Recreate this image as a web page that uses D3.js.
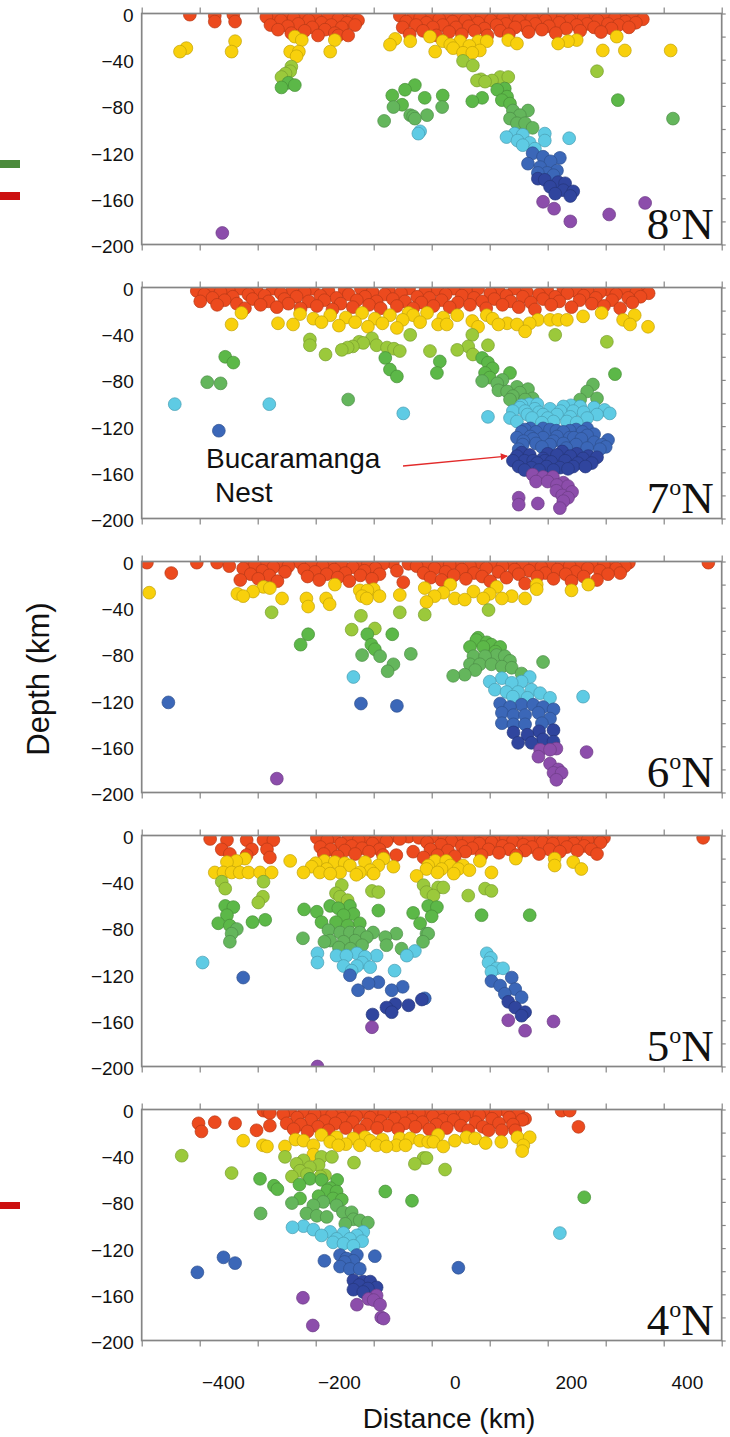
<!DOCTYPE html>
<html>
<head>
<meta charset="utf-8">
<script src="https://cdn.jsdelivr.net/npm/d3@7"></script>
<style>
  body { margin: 0; background: #fff; }
  svg { display: block; }
</style>
</head>
<body>
<svg id="chart" width="730" height="1437"></svg>
<script>
// Cross-sections of hypocentres, one panel per latitude.
const panelLatitudes = ["8", "7", "6", "5", "4"];
const xTickLabels = [-400, -200, 0, 200, 400];
const yTickLabels = [0, -40, -80, -120, -160, -200];
const frameTicks = d3.range(-540, 461, 100);
const rightTicks = d3.range(0, -201, -20);

// depth classes (km below surface) and their colours
const depthBreaks = [20, 40, 60, 80, 100, 120, 142, 160];
const depthColors = ["#ec4a1e", "#f8d00c", "#9bc93b", "#5cb848", "#64b65c",
                     "#5ecbe4", "#3b67b8", "#30459e", "#8c4dab"];

// [distance km, depth km]
const quakes8N = [
  [-457,-1],[-414,-2],[-414,-7],[-382,-1],[-379,-7],
  [-325,-3],[-318,-10],[-312,-2],[-305,-14],[-300,-6],[-293,-1],[-288,-11],[-282,-17],[-278,-4],[-270,-9],
  [-264,-1],[-259,-15],[-252,-6],[-246,-12],[-240,-2],[-236,-19],[-230,-8],[-224,-14],[-218,-3],[-213,-10],
  [-207,-17],[-201,-5],[-201,-19],[-195,-12],[-193,-1],[-186,-8],[-184,-19],[-177,-4],[-172,-10],[-167,-6],
  [-95,-2],[-90,-12],[-84,-7],[-78,-18],[-72,-1],[-67,-10],[-60,-4],[-55,-15],[-49,-8],[-43,-1],[-38,-12],
  [-32,-19],[-27,-5],[-21,-10],[-15,-2],[-10,-16],[-4,-7],[2,-12],[7,-1],[12,-18],[18,-6],[24,-11],[29,-2],
  [34,-15],[40,-8],[46,-3],[51,-13],[56,-19],[62,-6],[67,-1],[72,-10],[78,-15],[83,-4],[88,-9],[93,-18],
  [98,-2],[104,-12],[110,-6],[116,-1],[121,-11],[127,-16],[133,-4],[139,-9],[145,-1],[150,-14],[156,-6],
  [162,-11],[168,-2],[174,-17],[180,-8],[186,-3],[192,-13],[198,-6],[204,-1],[210,-10],[216,-15],[222,-4],
  [228,-9],[234,-1],[240,-12],[246,-6],[252,-16],[258,-2],[264,-9],[270,-13],[276,-4],[282,-10],[288,-1],
  [294,-7],[300,-12],[306,-3],[312,-8],[318,-1],[324,-5],
  [-474,-33],[-463,-30],[-385,-33],[-379,-24],[-276,-20],[-264,-23],[-284,-33],[-269,-33],[-273,-37],
  [-215,-33],[-207,-23],[-112,-27],[-103,-22],[-77,-24],[-43,-20],[-34,-33],[-21,-24],[-3,-30],[9,-24],
  [14,-34],[40,-24],[43,-32],[55,-24],[92,-23],[107,-26],[178,-26],[195,-24],[210,-23],[255,-32],[279,-20],
  [293,-32],[372,-32],[-8,-27],[25,-28],[30,-34],
  [-282,-46],[-284,-50],[-299,-55],[-292,-52],[14,-41],[31,-45],[38,-58],[52,-59],[64,-58],[78,-55],
  [92,-55],[245,-50],[45,-57],
  [-299,-64],[-287,-60],[-276,-62],[-108,-71],[-86,-66],[-69,-62],[-106,-81],[-91,-79],[-122,-93],[-77,-88],
  [-69,-91],[-52,-73],[-21,-71],[-22,-81],[-72,-89],[-48,-88],[30,-76],[47,-73],[73,-66],[86,-65],[90,-72],
  [81,-75],[95,-78],[100,-84],[112,-88],[126,-84],[95,-91],[107,-95],[121,-95],[134,-99],[281,-75],[376,-91],
  [-63,-104],[-60,-102],[89,-107],[103,-104],[117,-105],[129,-112],[117,-114],[138,-117],[155,-104],
  [155,-110],[197,-108],[108,-110],
  [134,-121],[152,-124],[126,-130],[147,-133],[159,-138],[181,-125],[176,-136],[143,-138],[165,-128],[170,-140],
  [143,-143],[155,-144],[164,-150],[178,-146],[187,-153],[204,-154],[199,-158],[173,-156],[190,-147],
  [-401,-190],[152,-163],[171,-169],[199,-180],[266,-174],[328,-164]
];

const quakes7N = [
  [-445,-3],[-439,-12],[-432,-6],[-425,-1],[-418,-9],[-410,-15],[-404,-4],[-397,-11],[-390,-2],[-383,-8],
  [-376,-14],[-369,-1],[-362,-18],[-356,-6],[-349,-10],[-342,-2],[-335,-15],[-328,-7],[-321,-12],[-314,-1],
  [-307,-17],[-300,-5],[-294,-10],[-287,-14],[-280,-2],[-273,-8],[-266,-18],[-259,-4],[-252,-12],[-245,-1],
  [-238,-16],[-232,-7],[-225,-11],[-218,-3],[-211,-19],[-204,-9],[-197,-14],[-190,-2],[-183,-6],[-176,-17],
  [-169,-11],[-162,-1],[-155,-8],[-148,-15],[-142,-4],[-135,-12],[-128,-18],[-121,-6],[-114,-2],[-107,-10],
  [-100,-16],[-93,-5],[-86,-12],[-79,-1],[-72,-18],[-65,-8],[-58,-13],[-51,-3],[-44,-9],[-37,-16],[-30,-2],
  [-23,-11],[-16,-6],[-9,-17],[-2,-1],[5,-13],[12,-7],[19,-3],[26,-15],[33,-9],[40,-1],[47,-12],[54,-18],
  [61,-5],[68,-10],[75,-2],[82,-15],[89,-7],[96,-12],[103,-1],[110,-17],[117,-8],[124,-4],[131,-13],
  [138,-19],[145,-6],[152,-10],[159,-2],[166,-15],[173,-8],[180,-12],[187,-1],[194,-5],[201,-17],[208,-3],
  [215,-11],[222,-7],[229,-1],[236,-14],[243,-9],[250,-4],[257,-16],[264,-2],[271,-11],[278,-6],[285,-18],
  [292,-1],[299,-9],[306,-13],[313,-4],[320,-8],[327,-1],[334,-5],
  [-368,-22],[-385,-32],[-305,-31],[-279,-32],[-267,-23],[-244,-27],[-230,-30],[-215,-24],[-200,-33],
  [-188,-26],[-172,-30],[-160,-22],[-150,-34],[-138,-27],[-125,-31],[-112,-24],[-100,-35],[-90,-28],
  [-80,-22],[-72,-24],[-48,-22],[-29,-32],[-14,-32],[4,-24],[30,-29],[55,-24],[75,-32],[90,-31],[107,-32],
  [121,-38],[129,-31],[143,-28],[164,-28],[178,-28],[193,-28],[221,-25],[253,-22],[290,-28],[302,-32],
  [310,-24],[333,-34],[-60,-30],[-20,-26],[40,-34],[65,-27],
  [-250,-45],[-250,-50],[-223,-58],[-195,-54],[-176,-51],[-158,-48],[-143,-44],[-135,-50],[-117,-52],
  [-105,-53],[-95,-55],[-77,-41],[-43,-55],[4,-54],[23,-51],[57,-50],[31,-58],[173,-41],[262,-47],[30,-41],
  [-165,-47],[-185,-52],
  [-396,-60],[-382,-65],[-427,-82],[-404,-83],[-184,-97],[-120,-61],[-112,-71],[-100,-77],[-26,-64],
  [-31,-74],[47,-61],[57,-65],[52,-74],[47,-81],[60,-78],[73,-83],[95,-74],[75,-89],[90,-90],[107,-86],
  [112,-91],[126,-88],[95,-97],[121,-97],[134,-96],[276,-75],[216,-97],[228,-90],[238,-84],[245,-96],
  [65,-70],[82,-80],[100,-94],
  [-483,-101],[-320,-101],[-89,-109],[57,-112],[100,-107],[95,-113],[115,-102],[121,-107],[138,-105],
  [133,-113],[152,-110],[164,-105],[176,-110],[187,-103],[193,-116],[204,-107],[216,-103],[228,-113],
  [245,-110],[267,-109],[107,-116],[150,-117],[170,-116],[210,-117],[128,-101],
  [112,-104],[125,-110],[145,-108],[160,-113],[182,-107],[199,-112],[222,-108],[240,-104],[258,-106],
  [142,-101],[200,-102],
  [-407,-124],[107,-130],[121,-123],[140,-125],[164,-123],[187,-125],[209,-123],[228,-128],[117,-136],
  [140,-135],[164,-136],[187,-135],[209,-136],[228,-139],[253,-136],[264,-132],[130,-129],[152,-130],
  [176,-129],[198,-130],[218,-131],[110,-140],[250,-140],
  [115,-125],[130,-122],[152,-122],[175,-124],[198,-124],[220,-125],[240,-127],[118,-133],[135,-131],
  [150,-138],[170,-133],[192,-139],[205,-130],[240,-134],[260,-138],[228,-122],
  [107,-146],[129,-145],[152,-148],[176,-145],[199,-146],[221,-148],[236,-152],[110,-155],[132,-156],
  [158,-155],[181,-156],[204,-155],[120,-150],[142,-152],[166,-151],[190,-150],[212,-152],[145,-158],[170,-158],
  [115,-143],[135,-150],[160,-144],[185,-142],[210,-144],[230,-146],[120,-158],[155,-150],[195,-157],
  [225,-155],[245,-147],[100,-150],
  [134,-162],[152,-164],[169,-164],[176,-171],[187,-169],[202,-177],[185,-180],[187,-185],[181,-191],
  [110,-182],[110,-188],[143,-187],[195,-172],[140,-168],[160,-168],[175,-176],[195,-182]
];

const quakes6N = [
  [-531,-1],[-489,-10],[-445,-1],[-410,-1],[-389,-4],
  [-370,-16],[-365,-6],[-358,-1],[-352,-11],[-345,-3],[-339,-15],[-332,-8],[-326,-1],[-320,-12],[-313,-5],
  [-306,-17],[-300,-2],[-293,-9],[-287,-4],
  [-267,-1],[-260,-7],[-254,-13],[-247,-2],[-241,-9],[-234,-16],[-228,-4],[-221,-11],[-215,-1],[-208,-7],
  [-202,-14],[-195,-3],[-189,-10],[-182,-17],[-176,-5],[-169,-1],[-163,-12],[-156,-8],[-150,-2],[-143,-15],
  [-137,-6],[-130,-11],[-124,-2],
  [-107,-1],[-100,-8],[-89,-18],[-80,-2],[-66,-4],[-54,-10],
  [-48,-2],[-42,-14],[-35,-6],[-28,-1],[-23,-16],[-16,-9],[-9,-3],[-2,-12],[5,-1],[12,-7],[19,-15],[26,-4],
  [33,-10],[40,-1],[47,-13],[54,-6],[61,-17],[68,-2],[75,-9],[82,-4],[89,-14],[96,-1],[103,-7],[110,-11],
  [117,-3],[121,-19],[128,-8],[135,-1],[142,-13],[149,-5],[156,-10],[163,-2],[170,-15],[177,-7],[184,-1],
  [191,-11],[198,-4],[201,-17],[208,-9],[215,-2],[222,-13],[229,-6],[236,-1],[245,-16],[250,-8],[257,-3],
  [264,-11],[271,-1],[278,-6],[285,-10],[293,-4],[300,-1],[437,-1],
  [-527,-27],[-375,-28],[-348,-26],[-330,-22],[-319,-23],[-298,-32],[-256,-32],[-253,-39],[-222,-32],
  [-216,-37],[-207,-20],[-164,-25],[-151,-25],[-152,-32],[-130,-30],[-95,-29],[-52,-23],[-49,-35],
  [-8,-20],[-20,-27],[0,-32],[17,-33],[32,-26],[49,-32],[72,-22],[81,-32],[98,-30],[121,-32],[141,-20],
  [141,-24],[201,-25],[230,-20],[-365,-30],[-35,-30],[60,-28],[-160,-30],[-140,-24],
  [-316,-44],[-162,-47],[-95,-44],[-52,-46],[-178,-59],[-138,-58],[58,-42],
  [-253,-63],[-266,-72],[-151,-63],[-108,-63],[-144,-72],[-138,-76],[-129,-82],[-160,-81],[-76,-80],
  [-106,-89],[-116,-95],[37,-68],[26,-74],[49,-74],[63,-72],[78,-74],[32,-82],[52,-82],[72,-81],[86,-82],
  [26,-89],[43,-89],[63,-89],[81,-91],[98,-92],[115,-97],[-3,-99],[17,-98],[152,-87],[40,-66],[55,-70],
  [70,-78],[95,-86],[35,-94],
  [-175,-100],[60,-104],[81,-101],[98,-105],[115,-104],[129,-100],[69,-111],[89,-113],[109,-113],[132,-111],
  [147,-114],[164,-118],[221,-117],[100,-117],[125,-118],
  [-494,-122],[-162,-123],[-100,-125],[78,-123],[95,-126],[115,-124],[135,-124],[152,-126],[170,-128],
  [81,-131],[101,-133],[121,-133],[144,-131],[164,-136],[81,-140],[101,-141],[121,-141],[150,-140],
  [170,-146],[109,-157],[132,-157],[152,-154],[170,-156],[101,-148],[125,-150],[145,-147],
  [-307,-188],[147,-163],[144,-169],[164,-163],[175,-162],[164,-175],[178,-180],[170,-183],[184,-183],
  [175,-189],[227,-165]
];

const quakes5N = [
  [-422,-3],[-393,-4],[-402,-12],[-388,-16],[-359,-4],[-350,-12],[-359,-17],[-330,-4],[-313,-4],[-324,-12],
  [-319,-19],
  [-238,-2],[-232,-10],[-226,-16],[-220,-4],[-214,-12],[-208,-1],[-202,-18],[-196,-7],[-190,-13],[-184,-2],
  [-178,-9],[-172,-16],[-166,-4],[-160,-11],[-154,-1],[-148,-14],[-142,-7],[-136,-2],[-130,-12],[-124,-17],
  [-118,-5],[-112,-1],
  [-101,-17],[-95,-3],[-80,-1],[-72,-14],[-62,-2],[-54,-19],
  [-48,-6],[-42,-12],[-36,-1],[-30,-17],[-24,-8],[-18,-2],[-12,-13],[-6,-5],[0,-18],[6,-1],[12,-9],[18,-14],
  [24,-3],[30,-11],[36,-1],[42,-7],[46,-17],[52,-3],[58,-12],[63,-6],[70,-1],[76,-15],[82,-9],[88,-2],
  [94,-12],[100,-5],[106,-17],[112,-1],[118,-8],[121,-13],[127,-3],[133,-10],[139,-1],[145,-16],[151,-6],
  [157,-2],[163,-12],[169,-7],[175,-1],[181,-14],[187,-4],[193,-10],[199,-2],[205,-7],[211,-13],[217,-1],
  [223,-9],[229,-4],[235,-12],[241,-1],[245,-16],[251,-6],[257,-2],[428,-2],
  [-414,-32],[-399,-32],[-385,-32],[-371,-32],[-356,-32],[-393,-23],[-377,-22],[-362,-20],[-336,-32],
  [-316,-32],[-284,-22],[-261,-32],[-247,-27],[-233,-32],[-221,-29],[-207,-23],[-198,-32],[-181,-26],
  [-164,-32],[-155,-23],[-146,-30],[-132,-26],[-123,-20],[-106,-27],[-66,-35],[-49,-29],
  [-46,-26],[-34,-22],[-23,-29],[-8,-26],[6,-29],[14,-26],[43,-22],[63,-32],[105,-20],[172,-20],[172,-26],
  [204,-23],[218,-29],[-15,-22],[-30,-32],[-2,-33],[25,-30],[-190,-24],[-140,-33],[-170,-34],[-215,-33],
  [-240,-24],[-225,-22],
  [-402,-40],[-396,-46],[-330,-40],[-331,-53],[-339,-58],[-195,-43],[-198,-53],[-143,-48],[-132,-49],
  [-54,-43],[-49,-49],[-29,-45],[-20,-45],[-37,-52],[52,-46],[63,-48],[23,-52],[-205,-50],[-185,-56],
  [-396,-61],[-382,-62],[-393,-69],[-408,-76],[-388,-78],[-376,-81],[-385,-85],[-388,-92],[-349,-75],
  [-327,-73],[-260,-64],[-262,-89],[-238,-66],[-230,-75],[-215,-61],[-201,-63],[-181,-61],[-192,-69],
  [-175,-68],[-164,-76],[-218,-82],[-198,-84],[-181,-84],[-164,-84],[-215,-91],[-192,-92],[-172,-91],
  [-152,-88],[-141,-84],[-132,-65],[-120,-88],[-118,-95],[-101,-85],[-92,-98],[-72,-67],[-60,-76],
  [-49,-85],[-46,-61],[-31,-62],[46,-69],[129,-69],[-46,-85],[-205,-75],[-185,-78],[-225,-92],[-160,-95],
  [-200,-97],[-180,-98],[-40,-70],[-55,-92],
  [-435,-110],[-237,-102],[-237,-110],[-204,-104],[-187,-104],[-169,-102],[-155,-105],[-135,-104],
  [-192,-113],[-169,-113],[-146,-114],[-104,-117],[-83,-104],[-69,-100],[-178,-117],[-160,-110],
  [55,-102],[58,-110],[72,-115],[83,-115],[63,-118],[62,-106],
  [-365,-123],[-181,-121],[-167,-134],[-149,-128],[-132,-127],[-109,-134],[-90,-131],[-52,-141],
  [63,-126],[78,-130],[98,-123],[86,-137],[104,-133],[115,-140],
  [-118,-149],[-103,-146],[-80,-147],[-57,-142],[-142,-155],[-109,-153],[92,-144],[104,-149],[121,-153],
  [92,-160],[115,-156],
  [-143,-166],[-237,-200],[121,-169],[170,-161]
];

const quakes4N = [
  [-442,-12],[-437,-19],[-414,-11],[-379,-12],[-342,-18],[-319,-14],[-319,-3],
  [-330,-1],[-322,-2],[-296,-4],[-290,-12],[-284,-1],[-278,-17],[-272,-7],[-266,-13],[-260,-2],[-254,-19],
  [-248,-9],[-242,-4],[-236,-15],[-230,-1],[-224,-10],[-218,-18],[-212,-5],[-206,-12],[-200,-2],[-194,-8],
  [-188,-16],[-182,-1],[-176,-11],[-170,-6],[-164,-18],[-158,-2],[-152,-13],[-146,-7],[-140,-1],[-134,-16],
  [-128,-10],[-122,-3],[-116,-14],[-110,-1],[-104,-8],[-98,-17],[-92,-4],[-86,-12],[-80,-1],[-74,-9],
  [-68,-15],[-62,-3],[-56,-11],[-50,-1],[-44,-17],[-38,-6],[-32,-13],[-26,-2],[-20,-9],[-14,-16],[-8,-4],
  [-2,-9],[4,-1],[10,-14],[16,-6],[23,-18],[30,-2],[36,-11],[42,-5],[48,-15],[54,-1],[58,-18],[64,-8],
  [70,-3],[76,-12],[81,-18],[88,-1],[94,-7],[100,-13],[104,-18],[110,-3],[116,-9],[121,-8],[184,-1],
  [198,-1],[213,-15],
  [-365,-27],[-331,-31],[-324,-32],[-293,-32],[-261,-27],[-244,-31],[-230,-22],[-204,-24],[-201,-31],
  [-244,-39],[-175,-25],[-164,-31],[-146,-27],[-135,-31],[-118,-32],[-101,-31],[-95,-25],[-77,-25],
  [-60,-27],[-46,-28],[-37,-28],[-29,-22],[20,-24],[53,-29],[108,-24],[129,-24],[118,-31],[116,-36],
  [-275,-26],[-215,-28],[-188,-30],[-155,-24],[-125,-26],[-85,-31],[-20,-32],[0,-27],[35,-25],[80,-28],
  [-471,-40],[-385,-55],[-293,-41],[-273,-47],[-261,-44],[-281,-58],[-267,-53],[-250,-50],[-235,-48],
  [-230,-41],[-212,-41],[-232,-58],[-69,-47],[-54,-42],[-174,-46],[-49,-42],[-17,-52],[-255,-56],[-224,-57],
  [-336,-60],[-312,-66],[-306,-69],[-268,-65],[-250,-60],[-230,-61],[-215,-68],[-203,-61],[-204,-71],
  [-281,-81],[-267,-77],[-244,-83],[-227,-80],[-210,-77],[-204,-83],[-256,-90],[-238,-92],[-221,-93],
  [-193,-89],[-178,-89],[-189,-99],[-164,-96],[-335,-90],[-120,-71],[-74,-79],[223,-76],[-220,-70],
  [-235,-75],[-175,-95],[-150,-98],[-195,-78],
  [-280,-102],[-261,-101],[-244,-104],[-230,-109],[-215,-106],[-204,-112],[-192,-107],[-181,-112],
  [-169,-109],[-158,-106],[-192,-116],[-175,-118],[181,-107],[-210,-115],[-160,-114],
  [-198,-126],[-187,-129],[-169,-126],[-198,-136],[-181,-138],[-164,-138],[-138,-127],[-225,-131],
  [-399,-128],[-379,-133],[-444,-141],[6,-137],[-190,-132],[-175,-131],
  [-175,-148],[-158,-149],[-146,-149],[-135,-154],[-175,-156],[-158,-158],[-165,-152],[-150,-155],
  [-262,-163],[-245,-187],[-169,-169],[-149,-164],[-135,-161],[-129,-169],[-123,-181],[-127,-180],[-140,-165]
];

const panels = [quakes8N, quakes7N, quakes6N, quakes5N, quakes4N];

// ---- layout ----
const plotLeft = 141.7, plotRight = 721.7;
const panelTop0 = 13.5, panelStep = 274, panelHeight = 231;
const sans = "'Liberation Sans', Arial, Helvetica, sans-serif";
const serif = "'Liberation Serif', 'Times New Roman', serif";
const frameColor = "#858585";

const svg = d3.select("#chart");
const x = d3.scaleLinear().domain([-540, 460]).range([plotLeft, plotRight]);
const color = d3.scaleThreshold().domain(depthBreaks).range(depthColors);

panels.forEach((quakes, i) => {
  const top = panelTop0 + i * panelStep;
  const bottom = top + panelHeight;
  const y = d3.scaleLinear().domain([0, -200]).range([top, bottom]);
  const g = svg.append("g");

  g.append("clipPath").attr("id", "clip" + i)
    .append("rect")
    .attr("x", plotLeft).attr("y", top)
    .attr("width", plotRight - plotLeft).attr("height", panelHeight);

  // hypocentres, shallow first so deeper events sit on top
  const sorted = quakes.slice().sort((a, b) => b[1] - a[1]);
  g.append("g").attr("clip-path", `url(#clip${i})`)
    .selectAll("circle").data(sorted).join("circle")
    .attr("cx", d => x(d[0]))
    .attr("cy", d => y(d[1]))
    .attr("r", 6.4)
    .attr("fill", d => color(-d[1]))
    .attr("stroke", d => d3.color(color(-d[1])).darker(0.7))
    .attr("stroke-width", 0.7);

  // frame
  g.append("rect")
    .attr("x", plotLeft).attr("y", top)
    .attr("width", plotRight - plotLeft).attr("height", panelHeight)
    .attr("fill", "none").attr("stroke", frameColor).attr("stroke-width", 1.7);

  const styleTicks = sel => {
    sel.select(".domain").remove();
    sel.selectAll("line").attr("stroke", frameColor).attr("stroke-width", 1.2);
  };

  g.append("g").attr("transform", `translate(0,${bottom})`)
    .call(d3.axisBottom(x).tickValues(frameTicks).tickSize(6).tickFormat(""))
    .call(styleTicks);
  g.append("g").attr("transform", `translate(0,${top})`)
    .call(d3.axisTop(x).tickValues(frameTicks).tickSize(6).tickFormat(""))
    .call(styleTicks);
  g.append("g").attr("transform", `translate(${plotRight},0)`)
    .call(d3.axisRight(y).tickValues(rightTicks).tickSize(4).tickFormat(""))
    .call(styleTicks);

  // depth labels
  const left = g.append("g").attr("transform", `translate(${plotLeft},0)`)
    .call(d3.axisLeft(y).tickValues(yTickLabels).tickSize(0).tickPadding(8));
  left.select(".domain").remove();
  left.selectAll("text")
    .attr("font-family", sans).attr("font-size", 19).attr("fill", "#111")
    .attr("dy", "0.42em");

  // latitude label
  const lab = g.append("text")
    .attr("x", plotRight - 8).attr("y", bottom - 6)
    .attr("text-anchor", "end")
    .attr("font-family", serif).attr("font-size", 45).attr("fill", "#111");
  lab.append("tspan").text(panelLatitudes[i]);
  lab.append("tspan").attr("font-size", 24).attr("dy", -18).text("o");
  lab.append("tspan").attr("dy", 18).text("N");
});

// distance labels under the last panel
const lastBottom = panelTop0 + 4 * panelStep + panelHeight;
const xl = svg.append("g").attr("transform", `translate(0,${lastBottom + 35})`)
  .call(d3.axisBottom(x).tickValues(xTickLabels).tickSize(0).tickPadding(0));
xl.select(".domain").remove();
xl.selectAll("text").attr("font-family", sans).attr("font-size", 19).attr("fill", "#111");

svg.append("text")
  .attr("x", 449).attr("y", 1428)
  .attr("text-anchor", "middle")
  .attr("font-family", sans).attr("font-size", 28).attr("fill", "#111")
  .text("Distance (km)");

svg.append("text")
  .attr("transform", "translate(49,679) rotate(-90)")
  .attr("text-anchor", "middle")
  .attr("font-family", sans).attr("font-size", 31).attr("fill", "#111")
  .text("Depth (km)");

// Bucaramanga nest annotation
const p2 = panelTop0 + panelStep;
const yNest = d3.scaleLinear().domain([0, -200]).range([p2, p2 + panelHeight]);
svg.append("text")
  .attr("x", 206).attr("y", 468)
  .attr("font-family", sans).attr("font-size", 28).attr("fill", "#111")
  .text("Bucaramanga");
svg.append("text")
  .attr("x", 215).attr("y", 502)
  .attr("font-family", sans).attr("font-size", 28).attr("fill", "#111")
  .text("Nest");

const arrowEnd = [90, -146];
svg.append("defs").append("marker")
  .attr("id", "arrowhead").attr("viewBox", "0 0 10 10")
  .attr("refX", 9).attr("refY", 5)
  .attr("markerWidth", 13).attr("markerHeight", 7)
  .attr("markerUnits", "userSpaceOnUse")
  .attr("orient", "auto")
  .append("path").attr("d", "M0,0 L10,5 L0,10 z").attr("fill", "#e22a2a");
svg.append("line")
  .attr("x1", 403).attr("y1", 466)
  .attr("x2", x(arrowEnd[0])).attr("y2", yNest(arrowEnd[1]))
  .attr("stroke", "#e22a2a").attr("stroke-width", 1.3)
  .attr("marker-end", "url(#arrowhead)");

// colour swatches at the left margin
svg.append("rect").attr("x", 0).attr("y", 160).attr("width", 20).attr("height", 8).attr("fill", "#4b8a3c");
svg.append("rect").attr("x", 0).attr("y", 192).attr("width", 20).attr("height", 8).attr("fill", "#cc1010");
svg.append("rect").attr("x", 0).attr("y", 1202).attr("width", 20).attr("height", 7).attr("fill", "#cc1010");
</script>
</body>
</html>
